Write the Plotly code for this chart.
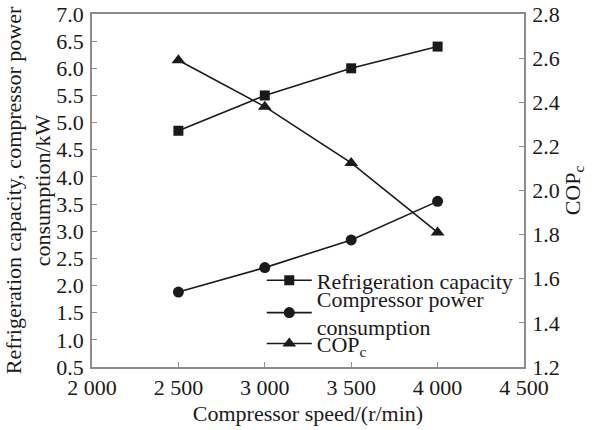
import plotly.graph_objects as go

speed = [2500, 3000, 3500, 4000]
refrig_capacity = [4.85, 5.5, 6.0, 6.4]
power_consumption = [1.88, 2.33, 2.84, 3.55]
cop_c = [2.59, 2.38, 2.125, 1.81]

x_ticks = [2000, 2500, 3000, 3500, 4000, 4500]
x_labels = ["2 000", "2 500", "3 000", "3 500", "4 000", "4 500"]
y_ticks = [0.5, 1.0, 1.5, 2.0, 2.5, 3.0, 3.5, 4.0, 4.5, 5.0, 5.5, 6.0, 6.5, 7.0]
y_labels = ["%.1f" % v for v in y_ticks]
y2_ticks = [1.2, 1.4, 1.6, 1.8, 2.0, 2.2, 2.4, 2.6, 2.8]
y2_labels = ["%.1f" % v for v in y2_ticks]

FONT = "Liberation Serif"
FS = 22
INK = "#1a1a1a"
AX = "#8c8c8c"

fig = go.Figure()
fig.add_trace(go.Scatter(x=speed, y=refrig_capacity, mode="lines+markers",
                         name="Refrigeration capacity", legend="legend",
                         line=dict(color=INK, width=1.6),
                         marker=dict(symbol="square", size=10, color=INK)))
fig.add_trace(go.Scatter(x=speed, y=power_consumption, mode="lines+markers",
                         name="Compressor power<br>consumption", legend="legend2",
                         line=dict(color=INK, width=1.6),
                         marker=dict(symbol="circle", size=11, color=INK)))
fig.add_trace(go.Scatter(x=speed, y=cop_c, mode="lines+markers", yaxis="y2",
                         name="COP<sub>c</sub>", legend="legend3",
                         line=dict(color=INK, width=1.6),
                         marker=dict(symbol="triangle-up", size=12, color=INK)))

leg_common = dict(x=0.393, xanchor="left", yanchor="middle",
                  bgcolor="rgba(0,0,0,0)", itemwidth=45,
                  font=dict(family=FONT, size=FS, color=INK))

fig.update_layout(
    width=593, height=430,
    margin=dict(l=92, r=69, t=14, b=63),
    paper_bgcolor="white", plot_bgcolor="white",
    font=dict(family=FONT, size=FS, color=INK),
    showlegend=True,
    legend=dict(y=0.245, **leg_common),
    legend2=dict(y=0.153, **leg_common),
    legend3=dict(y=0.066, **leg_common),
    xaxis=dict(range=[2000, 4500], tickvals=x_ticks, ticktext=x_labels,
               ticks="inside", ticklen=5, tickcolor=AX, showline=True,
               linecolor=AX, linewidth=1.5, mirror=True, showgrid=False,
               zeroline=False, automargin=False,
               title=dict(text="Compressor speed/(r/min)", standoff=6,
                          font=dict(size=FS))),
    yaxis=dict(range=[0.5, 7.0], tickvals=y_ticks, ticktext=y_labels,
               ticks="inside", ticklen=5, tickcolor=AX, showline=True,
               linecolor=AX, linewidth=1.5, showgrid=False, zeroline=False,
               automargin=False, ticklabelstandoff=2,
               title=dict(text="Refrigeration capacity, compressor power<br>consumption/kW",
                          standoff=0, font=dict(size=FS))),
    yaxis2=dict(range=[1.2, 2.8], tickvals=y2_ticks, ticktext=y2_labels,
                overlaying="y", side="right", ticks="inside", ticklen=5,
                tickcolor=AX, showline=True, linecolor=AX, linewidth=1.5,
                showgrid=False, zeroline=False, automargin=False,
                ticklabelstandoff=2,
                title=dict(text="COP<sub>c</sub>", standoff=2,
                           font=dict(size=FS))),
)

fig.write_html("out.html")
